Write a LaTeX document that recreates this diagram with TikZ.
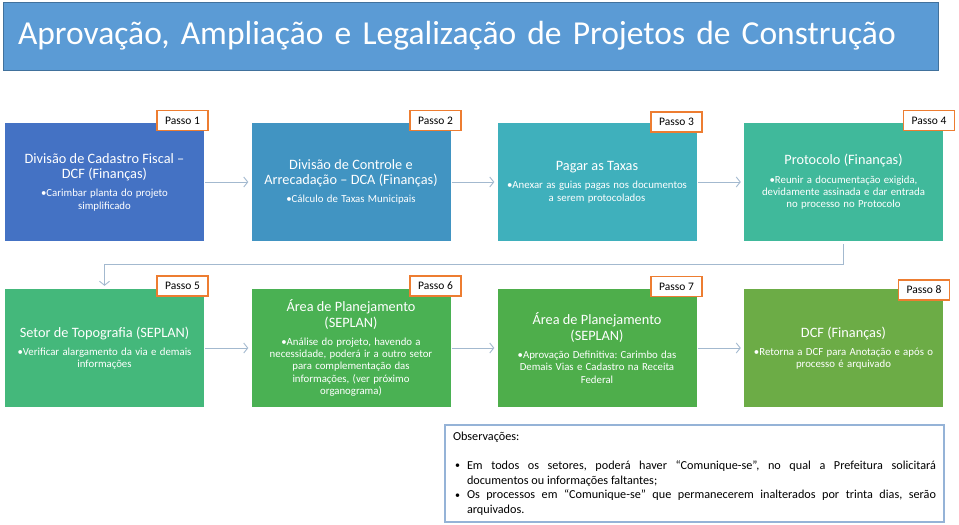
\documentclass[tikz,border=0pt]{standalone}
\usepackage{fontspec}
\setmainfont{Carlito}
\usepackage{tikz}
\usetikzlibrary{arrows.meta,calc,positioning}
\frenchspacing
\definecolor{titulocor}{HTML}{5B9BD5}
\definecolor{titulobor}{HTML}{41719C}
\definecolor{corA}{HTML}{4472C4}
\definecolor{corB}{HTML}{4194C2}
\definecolor{corC}{HTML}{3FB0BC}
\definecolor{corD}{HTML}{40B99B}
\definecolor{corE}{HTML}{44B87B}
\definecolor{corF}{HTML}{4AB153}
\definecolor{corG}{HTML}{4EAE4B}
\definecolor{corH}{HTML}{6CAC46}
\definecolor{passocor}{HTML}{ED7D31}
\definecolor{setacor}{HTML}{A3B9CF}
\definecolor{obscor}{HTML}{95B3D7}
\newcommand{\etapatexto}[2]{{\fontsize{14.3}{15.5}\selectfont #1\par}\vspace{6pt}{\fontsize{10.8}{12.3}\selectfont #2\par}}
\newcommand{\obsitem}{\hangindent=14pt\hangafter=1\makebox[14pt][l]{\hspace{2pt}\raisebox{0.8pt}{\fontsize{10}{10}\selectfont •}}}
\tikzset{
	etapa/.style={rectangle,fill=#1,text=white,minimum width=199pt,minimum height=118pt,
		inner sep=0pt,text width=194pt,align=center},
	passo/.style={rectangle,draw=passocor,fill=white,line width=1.3pt,minimum width=51pt,
		minimum height=20pt,inner sep=0pt,font=\fontsize{11.5}{12}\selectfont},
	seta/.style={draw=setacor,line width=0.9pt,-{Straight Barb[length=4pt,width=10pt]},
		shorten >=3pt,shorten <=1pt}
}

\begin{document}
\begin{tikzpicture}[x=1pt,y=-1pt]
\useasboundingbox (0,0) rectangle (959,525);
\node[fill=titulocor,draw=titulobor,line width=0.8pt,text=white,minimum width=935pt,minimum height=68pt,
	inner xsep=15pt,text width=905pt,align=left,font=\fontsize{33.5}{36}\selectfont] (titulo) at (470.5,36)
	{Aprovação, Ampliação e Legalização de Projetos de Construção};
% primeira linha
\node[etapa=corA] (e1) at (104.5,182) {\etapatexto{Divisão de Cadastro Fiscal --\\DCF (Finanças)}{•Carimbar planta do projeto\\simplificado}};
\node[etapa=corB] (e2) at (351,182) {\etapatexto{Divisão de Controle e\\Arrecadação -- DCA (Finanças)}{•Cálculo de Taxas Municipais}};
\node[etapa=corC] (e3) at (597,182) {\etapatexto{Pagar as Taxas}{•Anexar as guias pagas nos documentos\\a serem protocolados}};
\node[etapa=corD] (e4) at (843.5,182) {\etapatexto{Protocolo (Finanças)}{•Reunir a documentação exigida,\\devidamente assinada e dar entrada\\no processo no Protocolo}};
% segunda linha
\node[etapa=corE] (e5) at (104.5,348) {\etapatexto{Setor de Topografia (SEPLAN)}{•Verificar alargamento da via e demais\\informações}};
\node[etapa=corF] (e6) at (351,348) {\etapatexto{Área de Planejamento\\(SEPLAN)}{•Análise do projeto, havendo a\\necessidade, poderá ir a outro setor\\para complementação das\\informações, (ver próximo\\organograma)}};
\node[etapa=corG] (e7) at (597,348) {\etapatexto{Área de Planejamento\\(SEPLAN)}{•Aprovação Definitiva: Carimbo das\\Demais Vias e Cadastro na Receita\\Federal}};
\node[etapa=corH] (e8) at (843.5,348) {\etapatexto{DCF (Finanças)}{•Retorna a DCF para Anotação e após o\\processo é arquivado}};
% passos
\node[passo] (p1) at (182.5,120.5) {Passo 1};
\node[passo] (p2) at (435.5,120.5) {Passo 2};
\node[passo] (p3) at (676.5,122) {Passo 3};
\node[passo] (p4) at (929,120.5) {Passo 4};
\node[passo] (p5) at (182.5,286) {Passo 5};
\node[passo] (p6) at (435.5,286) {Passo 6};
\node[passo] (p7) at (676.5,286.5) {Passo 7};
\node[passo] (p8) at (924,290) {Passo 8};
% setas
\draw[seta] (e1.east) -- (e2.west);
\draw[seta] (e2.east) -- (e3.west);
\draw[seta] (e3.east) -- (e4.west);
\draw[seta,shorten <=3pt] (e4.south) -- ++(0,23) -| (e5.north);
\draw[seta] (e5.east) -- (e6.west);
\draw[seta] (e6.east) -- (e7.west);
\draw[seta] (e7.east) -- (e8.west);
% observacoes
\node[draw=obscor,line width=1.2pt,minimum width=499pt,minimum height=97pt,inner xsep=8pt,
	text width=483pt,align=justify,font=\fontsize{12.2}{14.7}\selectfont] (obs) at (694.5,473.5)
	{\parindent=0pt Observações:\par\vspace{14.7pt}
	\obsitem Em todos os setores, poderá haver “Comunique-se”, no qual a Prefeitura solicitará\linebreak documentos ou informações faltantes;\par
	\obsitem Os processos em “Comunique-se” que permanecerem inalterados por trinta dias, serão\linebreak arquivados.\par};
\end{tikzpicture}
\end{document}
